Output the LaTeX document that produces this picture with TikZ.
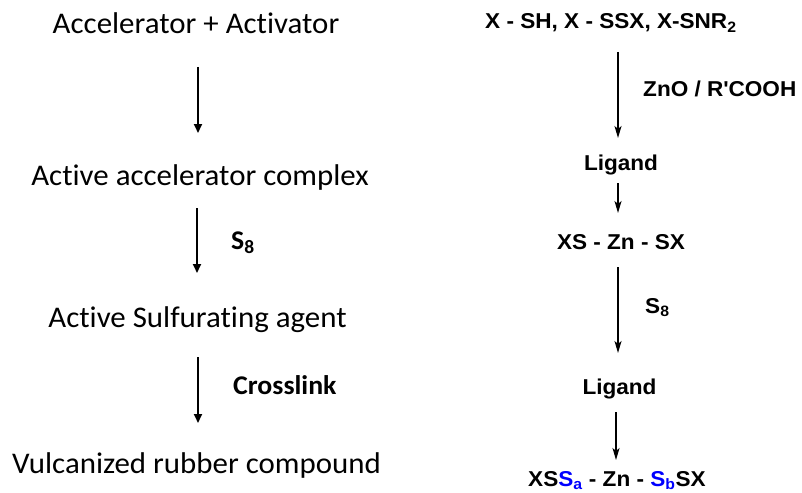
\documentclass[tikz,border=0pt]{standalone}
\usepackage{fontspec}
\usetikzlibrary{arrows.meta}
\newfontfamily\calfont{Carlito}[FakeStretch=1.03,Ligatures=NoCommon]
\newfontfamily\chemfont{Liberation Sans}[FakeStretch=1.05]
\definecolor{subblue}{RGB}{0,0,255}
\tikzset{
  stage/.style={inner sep=0pt, anchor=base, font=\calfont\fontsize{30}{36}\selectfont},
  cond/.style={inner sep=0pt, anchor=base west, font=\calfont\bfseries\fontsize{27}{32}\selectfont},
  chem/.style={inner sep=0pt, anchor=base, font=\chemfont\bfseries\fontsize{21.5}{26}\selectfont},
  chemw/.style={chem, anchor=base west},
  leftarr/.style={line width=1.8pt, -{Triangle[length=9pt,width=8pt]}},
  rightarr/.style={line width=1.3pt, -{Stealth[length=12pt,width=7pt,inset=3pt]}}
}
\begin{document}
\begin{tikzpicture}[x=1pt,y=-1pt]
\useasboundingbox (0,0) rectangle (802,492);

% general scheme
\node[stage] (acc)  at (196,34)  {Accelerator + Activator};
\node[stage] (cplx) at (200,185) {Active accelerator complex};
\node[stage] (sulf) at (197.5,327) {Active Sulfurating agent};
\node[stage] (vulc) at (196.5,473) {Vulcanized rubber compound};
\node[cond]  (s8l)  at (231,249) {S\textsubscript{8}};
\node[cond]  (xl)   at (233,394) {Crosslink};

\coordinate (l1a) at (198,67);  \coordinate (l1b) at (198,133);
\coordinate (l2a) at (197,208); \coordinate (l2b) at (197,273);
\coordinate (l3a) at (198,357); \coordinate (l3b) at (198,423);
\draw[leftarr] (l1a) -- (l1b);
\draw[leftarr] (l2a) -- (l2b);
\draw[leftarr] (l3a) -- (l3b);

% zinc complex route
\node[chemw] (xsh)  at (485,29)  {X - SH, X - SSX, X-SNR\textsubscript{2}};
\node[chemw] (zno)  at (643,97)  {ZnO / R\textquotesingle COOH};
\node[chem]  (lig1) at (621,170) {Ligand};
\node[chem]  (xszn) at (621,249) {XS - Zn - SX};
\node[chemw] (s8r)  at (645,313) {S\textsubscript{8}};
\node[chem]  (lig2) at (619.5,394) {Ligand};
\node[chemw] (fin)  at (528,486) {XS\textcolor{subblue}{S\textsubscript{a}} - Zn - \textcolor{subblue}{S\textsubscript{b}}SX};

\coordinate (r1a) at (618,52);  \coordinate (r1b) at (618,138);
\coordinate (r2a) at (618,183); \coordinate (r2b) at (618,213);
\coordinate (r3a) at (618,267); \coordinate (r3b) at (618,353);
\coordinate (r4a) at (616,412); \coordinate (r4b) at (616,460);
\draw[rightarr] (r1a) -- (r1b);
\draw[rightarr] (r2a) -- (r2b);
\draw[rightarr] (r3a) -- (r3b);
\draw[rightarr] (r4a) -- (r4b);
\end{tikzpicture}
\end{document}
